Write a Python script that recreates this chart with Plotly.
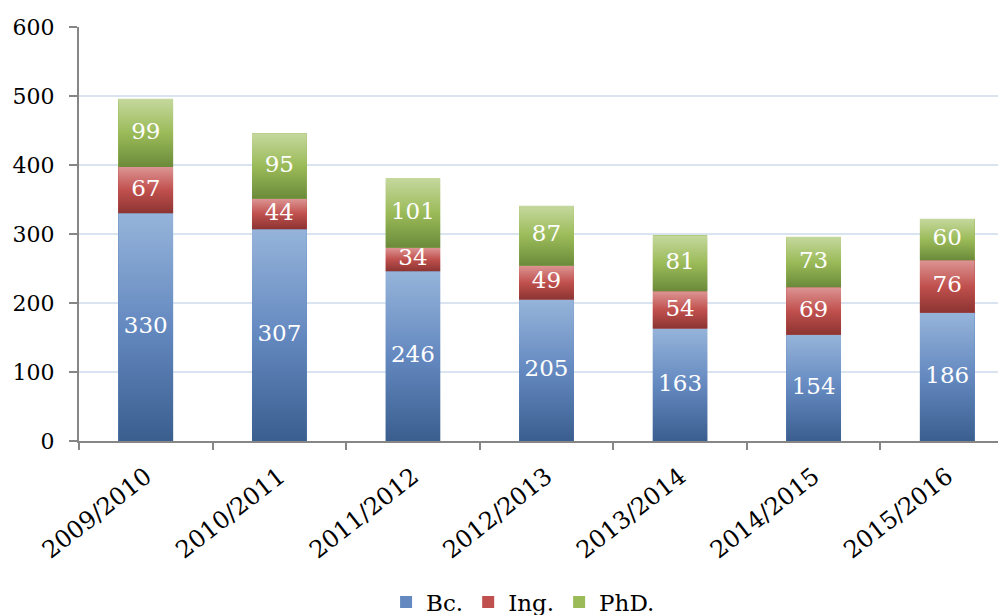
import plotly.graph_objects as go

years = ["2009/2010", "2010/2011", "2011/2012", "2012/2013", "2013/2014", "2014/2015", "2015/2016"]
bc = [330, 307, 246, 205, 163, 154, 186]
ing = [67, 44, 34, 49, 54, 69, 76]
phd = [99, 95, 101, 87, 81, 73, 60]

# name, values, (bottom, middle, top) gradient colours
series = [
    ("Bc.", bc, ("#3a5e8e", "#6489c0", "#96b4da")),
    ("Ing.", ing, ("#8c3432", "#c0504d", "#dc9594")),
    ("PhD.", phd, ("#6b8a3a", "#9bbb59", "#c5d89e")),
]
FONT = "DejaVu Serif"
BAR_W = 0.41
xs = list(range(len(years)))

fig = go.Figure()
# stacked bars (legend + base colour)
for name, vals, cols in series:
    fig.add_trace(go.Bar(
        x=xs, y=vals, name=name,
        marker=dict(color=cols[1], line=dict(width=0)),
        width=BAR_W, hoverinfo="skip",
    ))

# vertical gradient overlay for each stacked segment
base = [0] * len(years)
label_x, label_y, label_t = [], [], []
for name, vals, cols in series:
    for i, v in enumerate(vals):
        b0, b1 = base[i], base[i] + v
        x0, x1 = xs[i] - BAR_W / 2, xs[i] + BAR_W / 2
        fig.add_trace(go.Scatter(
            x=[x0, x1, x1, x0, x0], y=[b0, b0, b1, b1, b0],
            mode="lines", line=dict(width=0), fill="toself",
            fillgradient=dict(type="vertical",
                              colorscale=[[0, cols[0]], [0.5, cols[1]], [1, cols[2]]]),
            showlegend=False, hoverinfo="skip",
        ))
        label_x.append(xs[i])
        label_y.append((b0 + b1) / 2)
        label_t.append(str(v))
        base[i] = b1

fig.add_trace(go.Scatter(
    x=label_x, y=label_y, text=label_t, mode="text",
    textposition="middle center",
    textfont=dict(color="white", size=23, family=FONT),
    showlegend=False, hoverinfo="skip",
))

fig.update_layout(
    barmode="stack",
    width=1006, height=615,
    margin=dict(l=71, r=0, t=19, b=182),
    paper_bgcolor="white", plot_bgcolor="white",
    font=dict(family=FONT, size=22, color="black"),
    showlegend=True,
    legend=dict(orientation="h", xref="container", x=0.512, xanchor="center",
                yref="container", y=0.034, yanchor="middle", itemwidth=30,
                font=dict(size=23, family=FONT), traceorder="normal"),
)
fig.update_xaxes(
    range=[-0.5, 6.5], tickvals=xs, ticktext=years, tickangle=-38,
    showline=True, linecolor="#868686", linewidth=2,
    ticks="", tickfont=dict(size=24, family=FONT), showgrid=False, zeroline=False,
    ticklabelstandoff=10,
    minor=dict(ticks="outside", tick0=-0.5, dtick=1, ticklen=7, tickcolor="#868686",
               tickwidth=2, showgrid=False),
    automargin=False,
)
fig.update_yaxes(
    range=[0, 600], dtick=100,
    showline=True, linecolor="#868686", linewidth=2,
    ticks="outside", ticklen=8, tickcolor="#868686", tickwidth=2,
    tickfont=dict(size=22, family=FONT), ticklabelstandoff=10,
    showgrid=True, gridcolor="#dae4f1", gridwidth=2, zeroline=False,
    automargin=False,
)

fig.write_html("out.html")
